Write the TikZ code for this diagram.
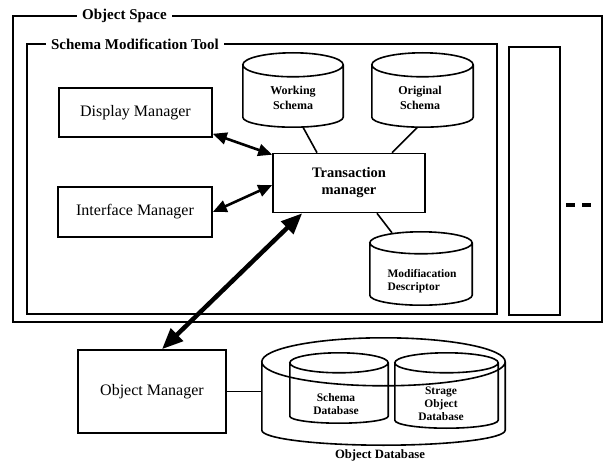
\documentclass[tikz,border=0pt]{standalone}
\usepackage{fontspec}
\setmainfont{Liberation Serif}
\usetikzlibrary{arrows.meta,calc}

\tikzset{
  frame/.style={draw, line width=1.6pt, inner sep=0pt},
  title/.style={fill=white, inner xsep=5pt, inner ysep=1pt,
                font=\bfseries\fontsize{15}{17}\selectfont},
  box/.style={draw, line width=1.6pt, inner sep=0pt, align=center,
              font=\fontsize{16}{18}\selectfont},
  drum/.style={inner sep=0pt},
  drumtext/.style={align=center, inner sep=0pt,
                   font=\bfseries\fontsize{12}{14.5}\selectfont},
  smalldrumtext/.style={drumtext, font=\bfseries\fontsize{11.5}{13.5}\selectfont},
  link/.style={line width=1.6pt},
  biarrow/.style={line width=2.6pt,
     {Triangle[length=14pt,width=12pt]}-{Triangle[length=14pt,width=12pt]}},
  heavyarrow/.style={line width=4.5pt,
     {Triangle[length=21pt,width=17pt]}-{Triangle[length=21pt,width=17pt]}},
}

% outline of a drum-shaped store around node #1; #2 top radius, #3 bottom radius
\newcommand\drumoutline[3]{%
  \draw[line width=1.6pt] let \p1=(#1.north west), \p2=(#1.south east),
        \n1={(\x2-\x1)/2} in
    (\x1,{\y1-#2}) -- (\x1,{\y2+#3})
    arc[start angle=180, end angle=360, x radius=\n1, y radius=#3]
    -- (\x2,{\y1-#2})
    ({(\x1+\x2)/2},{\y1-#2}) ellipse[x radius=\n1, y radius=#2];}

\begin{document}
\begin{tikzpicture}[x=1pt,y=-1pt]
\useasboundingbox (0,0) rectangle (608,465);

% frames
\node[frame, minimum width=589pt, minimum height=306pt] (space) at (307.5,169) {};
\node[title] (spacetitle) at (124.5,16) {Object Space};
\node[frame, minimum width=470pt, minimum height=270pt] (tool) at (262,179) {};
\node[title] (tooltitle) at (135,44) {Schema Modification Tool};
\node[frame, minimum width=51pt, minimum height=268pt] (other) at (534.5,181) {};
\draw[line width=4pt, dash pattern=on 9pt off 7pt] (566,205) -- (592,205);

% managers
\node[box, minimum width=153pt, minimum height=49pt] (dm) at (135.5,112.5) {Display Manager};
\node[box, minimum width=154pt, minimum height=50pt] (im) at (135,212) {Interface Manager};
\node[box, minimum width=152pt, minimum height=59pt,
      font=\bfseries\fontsize{14.5}{17}\selectfont] (tm) at (349,183) {Transaction\\manager};
\node[box, minimum width=148pt, minimum height=83pt] (om) at (152,391.5) {Object Manager};

% schema stores
\node[drum, minimum width=100pt, minimum height=74pt] (ws) at (293,90) {};
\drumoutline{ws}{12pt}{10pt}
\node[drumtext] (wstext) at (293,98) {Working\\Schema};

\node[drum, minimum width=101pt, minimum height=74pt] (os) at (422.5,90) {};
\drumoutline{os}{12pt}{10pt}
\node[drumtext] (ostext) at (420,98) {Original\\Schema};

\node[drum, minimum width=102pt, minimum height=73pt] (md) at (421,268.5) {};
\drumoutline{md}{11pt}{10pt}
\node[drumtext, align=left, font=\bfseries\fontsize{11.5}{13}\selectfont]
     (mdtext) at (422,281) {Modifiacation\\Descriptor};

% object database
\node[drum, minimum width=243pt, minimum height=107pt] (odb) at (383.5,391.5) {};
\drumoutline{odb}{24pt}{15pt}
\node[drum, minimum width=98pt, minimum height=70pt] (sdb) at (339,388) {};
\drumoutline{sdb}{10pt}{7pt}
\node[smalldrumtext] (sdbtext) at (336,404) {Schema\\Database};
\node[drum, minimum width=103pt, minimum height=75pt] (gdb) at (446.5,390.5) {};
\drumoutline{gdb}{10pt}{8pt}
\node[smalldrumtext, font=\bfseries\fontsize{11.5}{13}\selectfont] (gdbtext) at (441,404) {Strage\\Object\\Database};
\node[inner sep=0pt, font=\bfseries\fontsize{12.7}{15}\selectfont] (odbtext) at (380,455) {Object Database};

% connectors
\draw[link] ([xshift=10pt]ws.south) -- ([xshift=-32pt]tm.north);
\draw[link] ([xshift=-5pt]os.south) -- ([xshift=43pt]tm.north);
\draw[link] ([xshift=28pt]tm.south) -- ([xshift=-29pt,yshift=-1pt]md.north);
\draw[biarrow] ([yshift=4pt]dm.south east) -- ([yshift=-2pt]tm.north west);
\draw[biarrow] (im.east) -- ([yshift=-2pt]tm.west);
\draw[heavyarrow] ([xshift=30pt]tm.south west) -- ([xshift=10pt]om.north);
\draw[link] (om.east) -- (odb.west);
\end{tikzpicture}
\end{document}
